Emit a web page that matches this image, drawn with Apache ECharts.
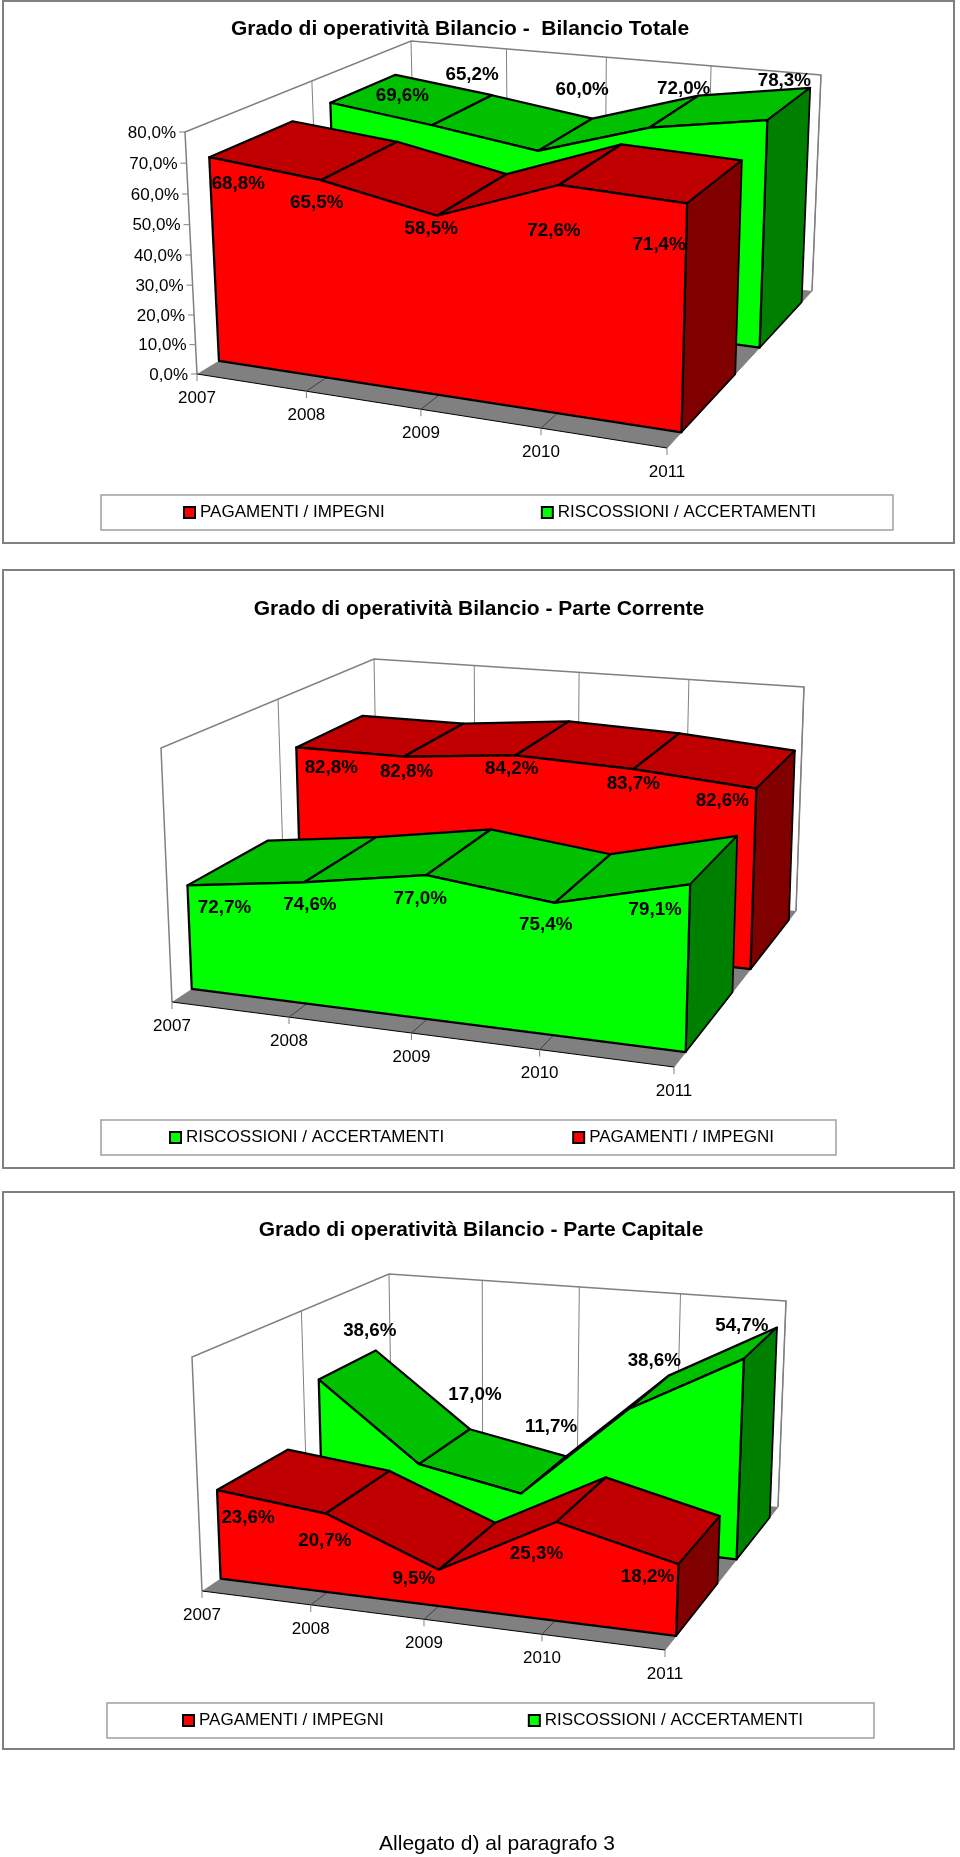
<!DOCTYPE html>
<html>
<head>
<meta charset="utf-8">
<title>Grado di operatività Bilancio</title>
<style>
  html, body { margin: 0; padding: 0; background: #fff; }
  #chart { width: 960px; height: 1857px; }
</style>
<script src="https://cdn.jsdelivr.net/npm/echarts@6/dist/echarts.min.js"></script>
</head>
<body>
<div id="chart"></div>
<script>
const years = ['2007', '2008', '2009', '2010', '2011'];
const percentTicks = [0, 10, 20, 30, 40, 50, 60, 70, 80];

const PAGAMENTI = 'PAGAMENTI / IMPEGNI';
const RISCOSSIONI = 'RISCOSSIONI / ACCERTAMENTI';

const pagamentiTotale = [68.8, 65.5, 58.5, 72.6, 71.4];
const riscossioniTotale = [69.6, 65.2, 60.0, 72.0, 78.3];
const pagamentiCorrente = [82.8, 82.8, 84.2, 83.7, 82.6];
const riscossioniCorrente = [72.7, 74.6, 77.0, 75.4, 79.1];
const pagamentiCapitale = [23.6, 20.7, 9.5, 25.3, 18.2];
const riscossioniCapitale = [38.6, 17.0, 11.7, 38.6, 54.7];

const RED = { front: '#ff0000', top: '#c00000', side: '#800000' };
const GREEN = { front: '#00ff00', top: '#00c000', side: '#008000' };
const FONT = '"Liberation Sans", Arial, sans-serif';

// the eight corners of each plot box on the page, the perspective weights,
// and the depth slots along the floor (front series, back series)
const charts = [
  {
    title: 'Grado di operatività Bilancio -  Bilancio Totale',
    titleCenter: 460,
    titleTop: 19,
    panel: [3, 1, 951, 542],
    yRange: [0, 80],
    showValueAxis: true,
    box: {
      flb: [197, 374], frb: [667, 448], blb: [416, 242], brb: [812, 291],
      flt: [185, 132], frt: [673, 186], blt: [411, 41], brt: [821, 75],
      wu: 0.91, wd: 1.28, wh: 0.967
    },
    frontSlot: [0.08, 0.41],
    backSlot: [0.58, 0.91],
    legend: { left: 101, top: 495, right: 77, leftPad: 82, gap: 156, order: [PAGAMENTI, RISCOSSIONI] },
    front: { name: PAGAMENTI, values: pagamentiTotale, colors: RED,
      shift: [[29, 27], [-4, 23], [-6, 13], [-5, 46], [-28, 41]] },
    back: { name: RISCOSSIONI, values: riscossioniTotale, colors: GREEN,
      shift: [[72, -7], [40, -50], [44, -61], [34, -39], [17, -39]] }
  },
  {
    title: 'Grado di operatività Bilancio - Parte Corrente',
    titleCenter: 479,
    titleTop: 599,
    panel: [3, 570, 951, 598],
    yRange: [60, 90],
    showValueAxis: false,
    box: {
      flb: [172, 1002], frb: [674, 1067], blb: [378, 866], brb: [796, 911],
      flt: [161, 748], frt: [681, 796], blt: [374, 659], brt: [804, 687],
      wu: 0.912, wd: 1.22, wh: 0.967
    },
    frontSlot: [0.08, 0.43],
    backSlot: [0.58, 0.93],
    legend: { left: 101, top: 1120, right: 62, leftPad: 68, gap: 128, order: [RISCOSSIONI, PAGAMENTI] },
    front: { name: RISCOSSIONI, values: riscossioniCorrente, colors: GREEN,
      shift: [[37, 22], [6, 22], [-6, 24], [-9, 22], [-35, 25]] },
    back: { name: PAGAMENTI, values: pagamentiCorrente, colors: RED,
      shift: [[35, 20], [3, 15], [-4, 14], [0, 15], [-34, 12]] }
  },
  {
    title: 'Grado di operatività Bilancio - Parte Capitale',
    titleCenter: 481,
    titleTop: 1220,
    panel: [3, 1192, 951, 557],
    yRange: [0, 60],
    showValueAxis: false,
    box: {
      flb: [202, 1591], frb: [665, 1650], blb: [392, 1464], brb: [778, 1507],
      flt: [192, 1357], frt: [673, 1404], blt: [389, 1274], brt: [786, 1301],
      wu: 0.921, wd: 1.25, wh: 0.967
    },
    frontSlot: [0.08, 0.41],
    backSlot: [0.58, 0.91],
    legend: { left: 107, top: 1703, right: 71, leftPad: 75, gap: 144, order: [PAGAMENTI, RISCOSSIONI] },
    front: { name: PAGAMENTI, values: pagamentiCapitale, colors: RED,
      shift: [[31, 28], [-1, 27], [-25, 9], [-20, 32], [-31, 13]] },
    back: { name: RISCOSSIONI, values: riscossioniCapitale, colors: GREEN,
      shift: [[51, -49], [56, -69], [30, -67], [25, -48], [-2, -33]] }
  }
];

function project(box, u, t, h) {
  const corners = [
    [box.flb, 0, 0, 0], [box.frb, 1, 0, 0], [box.blb, 0, 1, 0], [box.brb, 1, 1, 0],
    [box.flt, 0, 0, 1], [box.frt, 1, 0, 1], [box.blt, 0, 1, 1], [box.brt, 1, 1, 1]
  ];
  let sx = 0, sy = 0, sw = 0;
  corners.forEach(function (c) {
    const k = (c[1] ? u : 1 - u) * (c[2] ? t : 1 - t) * (c[3] ? h : 1 - h);
    const w = k * (c[1] ? box.wu : 1) * (c[2] ? box.wd : 1) * (c[3] ? box.wh : 1);
    sx += w * c[0][0];
    sy += w * c[0][1];
    sw += w;
  });
  return [sx / sw, sy / sw];
}

// turn a data pair into box fractions through the axes of the series' grid
function toBox(params, api, x, y) {
  const p = api.coord([x, y]);
  const cs = params.coordSys;
  return { u: (p[0] - cs.x) / cs.width, h: (cs.y + cs.height - p[1]) / cs.height };
}

function polygon(points, fill, stroke, width) {
  return { type: 'polygon', shape: { points: points },
    style: { fill: fill, stroke: stroke, lineWidth: width, lineJoin: 'round' } };
}

function line(points, stroke, width) {
  return { type: 'polyline', shape: { points: points },
    style: { fill: null, stroke: stroke, lineWidth: width } };
}

function text(str, x, y, font, align) {
  return { type: 'text', z2: 50,
    style: { text: str, x: x, y: y, font: font, fill: '#000', align: align || 'center', verticalAlign: 'middle' } };
}

function formatPercent(v) {
  return v.toFixed(1).replace('.', ',') + '%';
}

function renderFrame(chart) {
  const box = chart.box;
  return function (params, api) {
    const i = params.dataIndex;
    const last = params.dataInsideLength - 1;
    const u = toBox(params, api, api.value(0), api.value(1)).u;
    const children = [];
    if (i === 0) {
      children.push(polygon([project(box, 0, 0, 0), project(box, 0, 0, 1), project(box, 0, 1, 1), project(box, 0, 1, 0)], '#fff', null, 0));
      children.push(polygon([project(box, 0, 1, 0), project(box, 0, 1, 1), project(box, 1, 1, 1), project(box, 1, 1, 0)], '#fff', null, 0));
      children.push(polygon([project(box, 0, 0, 0), project(box, 1, 0, 0), project(box, 1, 1, 0), project(box, 0, 1, 0)], '#808080', null, 0));
      children.push(line([project(box, 0, 0, 0), project(box, 0, 0, 1), project(box, 0, 1, 1), project(box, 1, 1, 1), project(box, 1, 1, 0)], '#808080', 1.5));
      children.push(line([project(box, 0, 0.5, 0), project(box, 0, 0.5, 1)], '#808080', 1));
      children.push(line([project(box, 0, 0, 0), project(box, 1, 0, 0)], '#000', 1));
      children.push(line([project(box, 1, 0, 0), project(box, 1, 1, 0)], '#808080', 1));
    }
    const foot = project(box, u, 0, 0);
    children.push(line([project(box, u, 1, 0), project(box, u, 1, 1)], '#808080', 1));
    if (i > 0 && i < last) {
      children.push(line([foot, project(box, u, 1, 0)], '#404040', 1));
    }
    children.push(line([foot, [foot[0], foot[1] + 7]], '#808080', 1));
    children.push(text(years[i], foot[0], foot[1] + 24, '17px ' + FONT));
    return { type: 'group', children: children };
  };
}

function renderValueAxis(chart) {
  const box = chart.box;
  return function (params, api) {
    const h = toBox(params, api, 0, api.value(1)).h;
    const p = project(box, 0, 0, h);
    return { type: 'group', children: [
      line([[p[0] - 6, p[1]], p], '#808080', 1),
      text(formatPercent(api.value(1)), p[0] - 9, p[1] + 1, '17px ' + FONT, 'right')
    ] };
  };
}

function renderArea(chart, part, slot) {
  const box = chart.box;
  const colors = part.colors;
  return function (params, api) {
    const i = params.dataIndex;
    const n = params.dataInsideLength;
    const here = toBox(params, api, i, api.value(1, i));
    const children = [];
    if (i < n - 1) {
      const next = toBox(params, api, i + 1, api.value(1, i + 1));
      children.push(polygon([
        project(box, here.u, slot[0], here.h), project(box, next.u, slot[0], next.h),
        project(box, next.u, slot[1], next.h), project(box, here.u, slot[1], here.h)
      ], colors.top, '#000', 2.25));
    } else {
      children.push(polygon([
        project(box, here.u, slot[0], here.h), project(box, here.u, slot[1], here.h),
        project(box, here.u, slot[1], 0), project(box, here.u, slot[0], 0)
      ], colors.side, '#000', 1.75));
      const wall = [project(box, 0, slot[0], 0)];
      for (let j = 0; j < n; j++) {
        const q = toBox(params, api, j, api.value(1, j));
        wall.push(project(box, q.u, slot[0], q.h));
      }
      wall.push(project(box, 1, slot[0], 0));
      children.push(polygon(wall, colors.front, '#000', 2.25));
    }
    const anchor = project(box, here.u, slot[0], here.h);
    children.push(text(formatPercent(api.value(1, i)),
      anchor[0] + part.shift[i][0], anchor[1] + part.shift[i][1], 'bold 18.8px ' + FONT));
    return { type: 'group', children: children };
  };
}

const grids = [];
const xAxes = [];
const yAxes = [];
const series = [];
const titles = [];
const legends = [];
const panels = [];

charts.forEach(function (chart, c) {
  const b = chart.box;
  grids.push({ left: b.flt[0], top: b.blt[1], width: b.brt[0] - b.flt[0], height: b.frb[1] - b.blt[1] });
  xAxes.push({ gridIndex: c, type: 'category', data: years, boundaryGap: false, show: false });
  yAxes.push({ gridIndex: c, type: 'value', min: chart.yRange[0], max: chart.yRange[1], show: false });

  const axisRefs = { type: 'custom', coordinateSystem: 'cartesian2d', xAxisIndex: c, yAxisIndex: c, silent: true };
  const encode = { x: 0, y: 1 };

  series.push(Object.assign({}, axisRefs, {
    name: 'frame' + c, encode: encode,
    data: years.map(function (y, i) { return [i, chart.yRange[0]]; }),
    renderItem: renderFrame(chart)
  }));
  if (chart.showValueAxis) {
    series.push(Object.assign({}, axisRefs, {
      name: 'valueAxis' + c, encode: encode,
      data: percentTicks.map(function (v) { return [0, v]; }),
      renderItem: renderValueAxis(chart)
    }));
  }
  [[chart.back, chart.backSlot], [chart.front, chart.frontSlot]].forEach(function (pair) {
    const part = pair[0];
    series.push(Object.assign({}, axisRefs, {
      name: part.name, encode: encode,
      itemStyle: { color: part.colors.front, borderColor: '#000', borderWidth: 1.5 },
      data: part.values.map(function (v, i) { return [i, v]; }),
      renderItem: renderArea(chart, part, pair[1])
    }));
  });

  titles.push({
    text: chart.title, left: chart.titleCenter, top: chart.titleTop, padding: 0, textAlign: 'center',
    textStyle: { fontFamily: FONT, fontSize: 21, fontWeight: 'bold', color: '#000' }
  });
  legends.push({
    data: chart.legend.order, left: chart.legend.left, top: chart.legend.top, orient: 'horizontal',
    icon: 'rect', itemWidth: 11, itemHeight: 11, itemGap: chart.legend.gap, selectedMode: false,
    borderColor: '#a0a0a0', borderWidth: 1.5, padding: [9, chart.legend.right, 9, chart.legend.leftPad],
    textStyle: { fontFamily: FONT, fontSize: 17, color: '#000' }
  });
  panels.push({
    type: 'rect', z: -1,
    shape: { x: chart.panel[0], y: chart.panel[1], width: chart.panel[2], height: chart.panel[3] },
    style: { fill: '#fff', stroke: '#808080', lineWidth: 2 }
  });
});

titles.push({
  text: 'Allegato d) al paragrafo 3', left: 497, top: 1834, padding: 0, textAlign: 'center',
  textStyle: { fontFamily: FONT, fontSize: 21, fontWeight: 'normal', color: '#000' }
});

const chartEl = echarts.init(document.getElementById('chart'));
chartEl.setOption({
  animation: false,
  backgroundColor: '#fff',
  title: titles,
  legend: legends,
  grid: grids,
  xAxis: xAxes,
  yAxis: yAxes,
  graphic: panels,
  series: series
});
</script>
</body>
</html>
